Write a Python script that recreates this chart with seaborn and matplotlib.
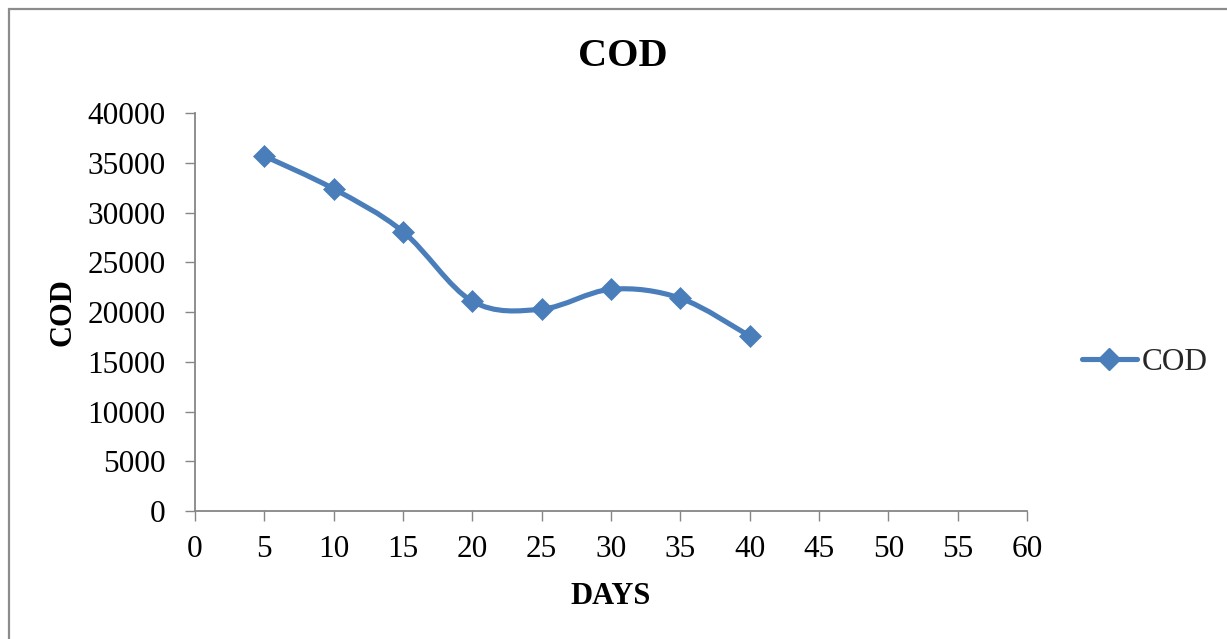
import numpy as np
import matplotlib
matplotlib.use("Agg")
import matplotlib.pyplot as plt
from matplotlib.path import Path
from matplotlib.patches import PathPatch, Rectangle
from matplotlib.lines import Line2D
import seaborn as sns
import pandas as pd

days = [5, 10, 15, 20, 25, 30, 35, 40]
cod = [35700, 32400, 28100, 21100, 20300, 22300, 21400, 17600]
x_ticks = list(range(0, 65, 5))
y_ticks = list(range(0, 45000, 5000))
title = "COD"
xlabel = "DAYS"
ylabel = "COD"
series_name = "COD"

sns.set_theme(style="white")
plt.rcParams['font.family'] = ['Liberation Serif', 'DejaVu Serif']

color = "#4A7EBB"
axis_gray = "#868686"

fig = plt.figure(figsize=(12.27, 6.39), dpi=100)
ax_w = (1027 - 195) / 1227
ax_h = (511 - 113.3) / 639
ax = fig.add_axes([195 / 1227, 1 - 511 / 639, ax_w, ax_h])

df = pd.DataFrame({"DAYS": days, "COD": cod})

# smooth line (Catmull-Rom style Bezier through the data points)
pts = np.column_stack([df["DAYS"].to_numpy(float), df["COD"].to_numpy(float)])
verts = [tuple(pts[0])]
codes = [Path.MOVETO]
n = len(pts)
for i in range(n - 1):
    p0 = pts[i - 1] if i > 0 else pts[i]
    p1 = pts[i]
    p2 = pts[i + 1]
    p3 = pts[i + 2] if i + 2 < n else pts[i + 1]
    c1 = p1 + (p2 - p0) / 6.0
    c2 = p2 - (p3 - p1) / 6.0
    verts += [tuple(c1), tuple(c2), tuple(p2)]
    codes += [Path.CURVE4] * 3
ax.add_patch(PathPatch(Path(verts, codes), facecolor="none", edgecolor=color,
                       lw=3.7, capstyle="round", joinstyle="round", zorder=2))

sns.scatterplot(data=df, x="DAYS", y="COD", marker="D", s=125, color=color,
                edgecolor=color, linewidth=0.5, ax=ax, zorder=3, legend=False)

ax.set_xlim(0, 60)
ax.set_ylim(0, 40000)
ax.set_xticks(x_ticks)
ax.set_yticks(y_ticks)
ax.set_xticklabels([str(v) for v in x_ticks])
ax.set_yticklabels([str(v) for v in y_ticks])

for side in ["top", "right"]:
    ax.spines[side].set_visible(False)
for side in ["left", "bottom"]:
    ax.spines[side].set_color(axis_gray)
    ax.spines[side].set_linewidth(1.3)

ax.tick_params(axis="both", which="major", direction="out", length=7,
               width=1.0, color=axis_gray, labelsize=22.5, labelcolor="black",
               bottom=True, left=True, top=False, right=False)
ax.tick_params(axis="x", pad=10)
ax.tick_params(axis="y", pad=14)
ax.grid(False)

ax.set_xlabel(xlabel, fontsize=22, fontweight="bold", color="black")
ax.set_ylabel(ylabel, fontsize=22, fontweight="bold", color="black")
ax.xaxis.set_label_coords(0.5, (511 - 596) / (511 - 113.3))
ax.yaxis.set_label_coords((63 - 195) / (1027 - 195), 0.5)
ax.xaxis.label.set_va("center")
ax.yaxis.label.set_va("center")

fig.text(623 / 1227, 1 - 57 / 639, title, ha="center", va="center",
         fontsize=29, fontweight="bold", color="black")

handle = Line2D([0], [0], color=color, lw=3.7, marker="D", markersize=11,
                markerfacecolor=color, markeredgecolor=color, solid_capstyle="round")
leg = fig.legend([handle], [series_name], loc="center left",
                 bbox_to_anchor=(1082 / 1227, 1 - 362 / 639), frameon=False,
                 fontsize=22.5, handlelength=1.75, handletextpad=0.15, borderpad=0,
                 borderaxespad=0)

# outer chart frame
fig.patches.append(Rectangle((9 / 1227, -0.2), 1.2, 1.2 - 9 / 639, transform=fig.transFigure,
                             fill=False, edgecolor="#8C8C8C", lw=1.6, figure=fig))

fig.savefig("out.png", dpi=100)
